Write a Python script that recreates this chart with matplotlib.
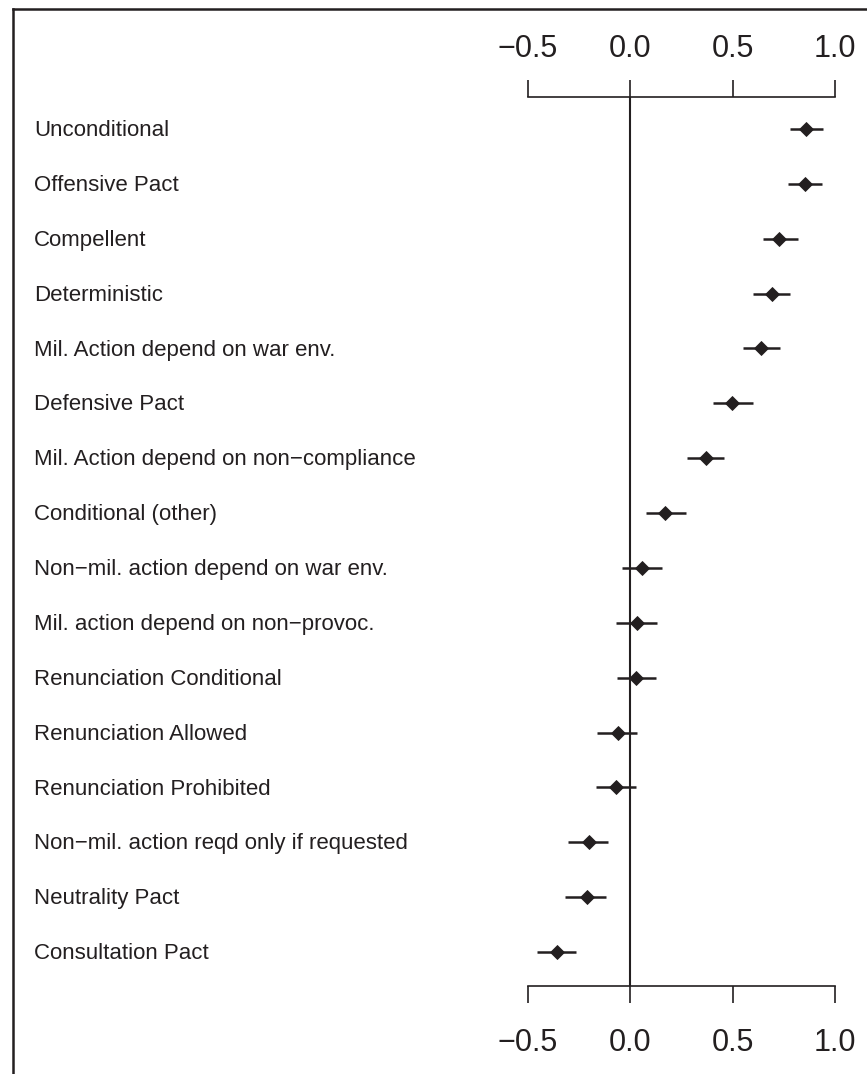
import matplotlib
matplotlib.use("Agg")
import matplotlib.pyplot as plt
import matplotlib.transforms as mtransforms
from matplotlib.lines import Line2D
import numpy as np

plt.rcParams['font.family'] = ['Liberation Sans', 'DejaVu Sans']
plt.rcParams['axes.unicode_minus'] = True

# pact features, top to bottom
labels = [
    "Unconditional",
    "Offensive Pact",
    "Compellent",
    "Deterministic",
    "Mil. Action depend on war env.",
    "Defensive Pact",
    "Mil. Action depend on non\u2212compliance",
    "Conditional (other)",
    "Non\u2212mil. action depend on war env.",
    "Mil. action depend on non\u2212provoc.",
    "Renunciation Conditional",
    "Renunciation Allowed",
    "Renunciation Prohibited",
    "Non\u2212mil. action reqd only if requested",
    "Neutrality Pact",
    "Consultation Pact",
]
estimates = [0.857, 0.854, 0.728, 0.691, 0.639, 0.499, 0.371, 0.172,
             0.058, 0.033, 0.029, -0.057, -0.068, -0.200, -0.211, -0.358]
lower = [0.780, 0.772, 0.649, 0.598, 0.550, 0.405, 0.280, 0.080,
         -0.039, -0.067, -0.065, -0.161, -0.164, -0.304, -0.315, -0.452]
upper = [0.940, 0.938, 0.818, 0.782, 0.732, 0.598, 0.460, 0.275,
         0.155, 0.130, 0.125, 0.036, 0.028, -0.107, -0.117, -0.265]
xticks = [-0.5, 0.0, 0.5, 1.0]

ink = "#231f20"
W, H = 867, 1074
fig = plt.figure(figsize=(W / 100, H / 100), dpi=100)

# axes placed in pixel units
ax_left, ax_right, ax_top, ax_bottom = 480, 860, 97, 986
ax = fig.add_axes([ax_left / W, 1 - ax_bottom / H,
                   (ax_right - ax_left) / W, (ax_bottom - ax_top) / H])
x0_px, unit_px = 630, 205
ax.set_xlim((ax_left - x0_px) / unit_px, (ax_right - x0_px) / unit_px)
row0_px, row_step = 129, 54.87
ax.set_ylim((ax_bottom - row0_px) / row_step, (ax_top - row0_px) / row_step)

y = np.arange(len(labels))
ax.axvline(0, color=ink, lw=1.5, zorder=1)
ax.hlines(y, lower, upper, color=ink, lw=1.8, zorder=2)
ax.plot(estimates, y, linestyle="none", marker="D", markersize=7,
        color=ink, mec=ink, mew=0.6, zorder=3)

# row labels sit left of the axes: x in figure pixels, y in data rows
label_trans = mtransforms.blended_transform_factory(
    mtransforms.IdentityTransform(), ax.transData)
for yi, lab in zip(y, labels):
    ax.text(34, yi + 0.03, lab, transform=label_trans, fontsize=16,
            color=ink, va="center", ha="left", clip_on=False)

tick_text = [f"{v:.1f}".replace("-", "\u2212") for v in xticks]

# bottom axis
ax.set_xticks(xticks)
ax.set_xticklabels(tick_text)
ax.tick_params(axis="x", direction="out", length=12.5, width=1.2, color=ink,
               labelsize=22, labelcolor=ink, pad=18)
ax.set_yticks([])
for side in ("left", "right", "top"):
    ax.spines[side].set_visible(False)
ax.spines["bottom"].set_bounds(-0.5, 1.0)
ax.spines["bottom"].set_color(ink)
ax.spines["bottom"].set_linewidth(1.2)
ax.patch.set_visible(False)

# top axis, same scale
top = ax.secondary_xaxis("top")
top.set_xticks(xticks)
top.set_xticklabels(tick_text)
top.tick_params(axis="x", direction="out", length=12.5, width=1.2, color=ink,
                labelsize=22, labelcolor=ink, pad=11)
top.spines["top"].set_bounds(-0.5, 1.0)
top.spines["top"].set_color(ink)
top.spines["top"].set_linewidth(1.2)

# outer frame: top and left edges only
fig.add_artist(Line2D([13 / W, 1.0], [1 - 9 / H, 1 - 9 / H],
                      transform=fig.transFigure, color=ink, lw=1.8))
fig.add_artist(Line2D([13 / W, 13 / W], [0.0, 1 - 9 / H],
                      transform=fig.transFigure, color=ink, lw=1.8))

fig.savefig("out.png", dpi=100)
